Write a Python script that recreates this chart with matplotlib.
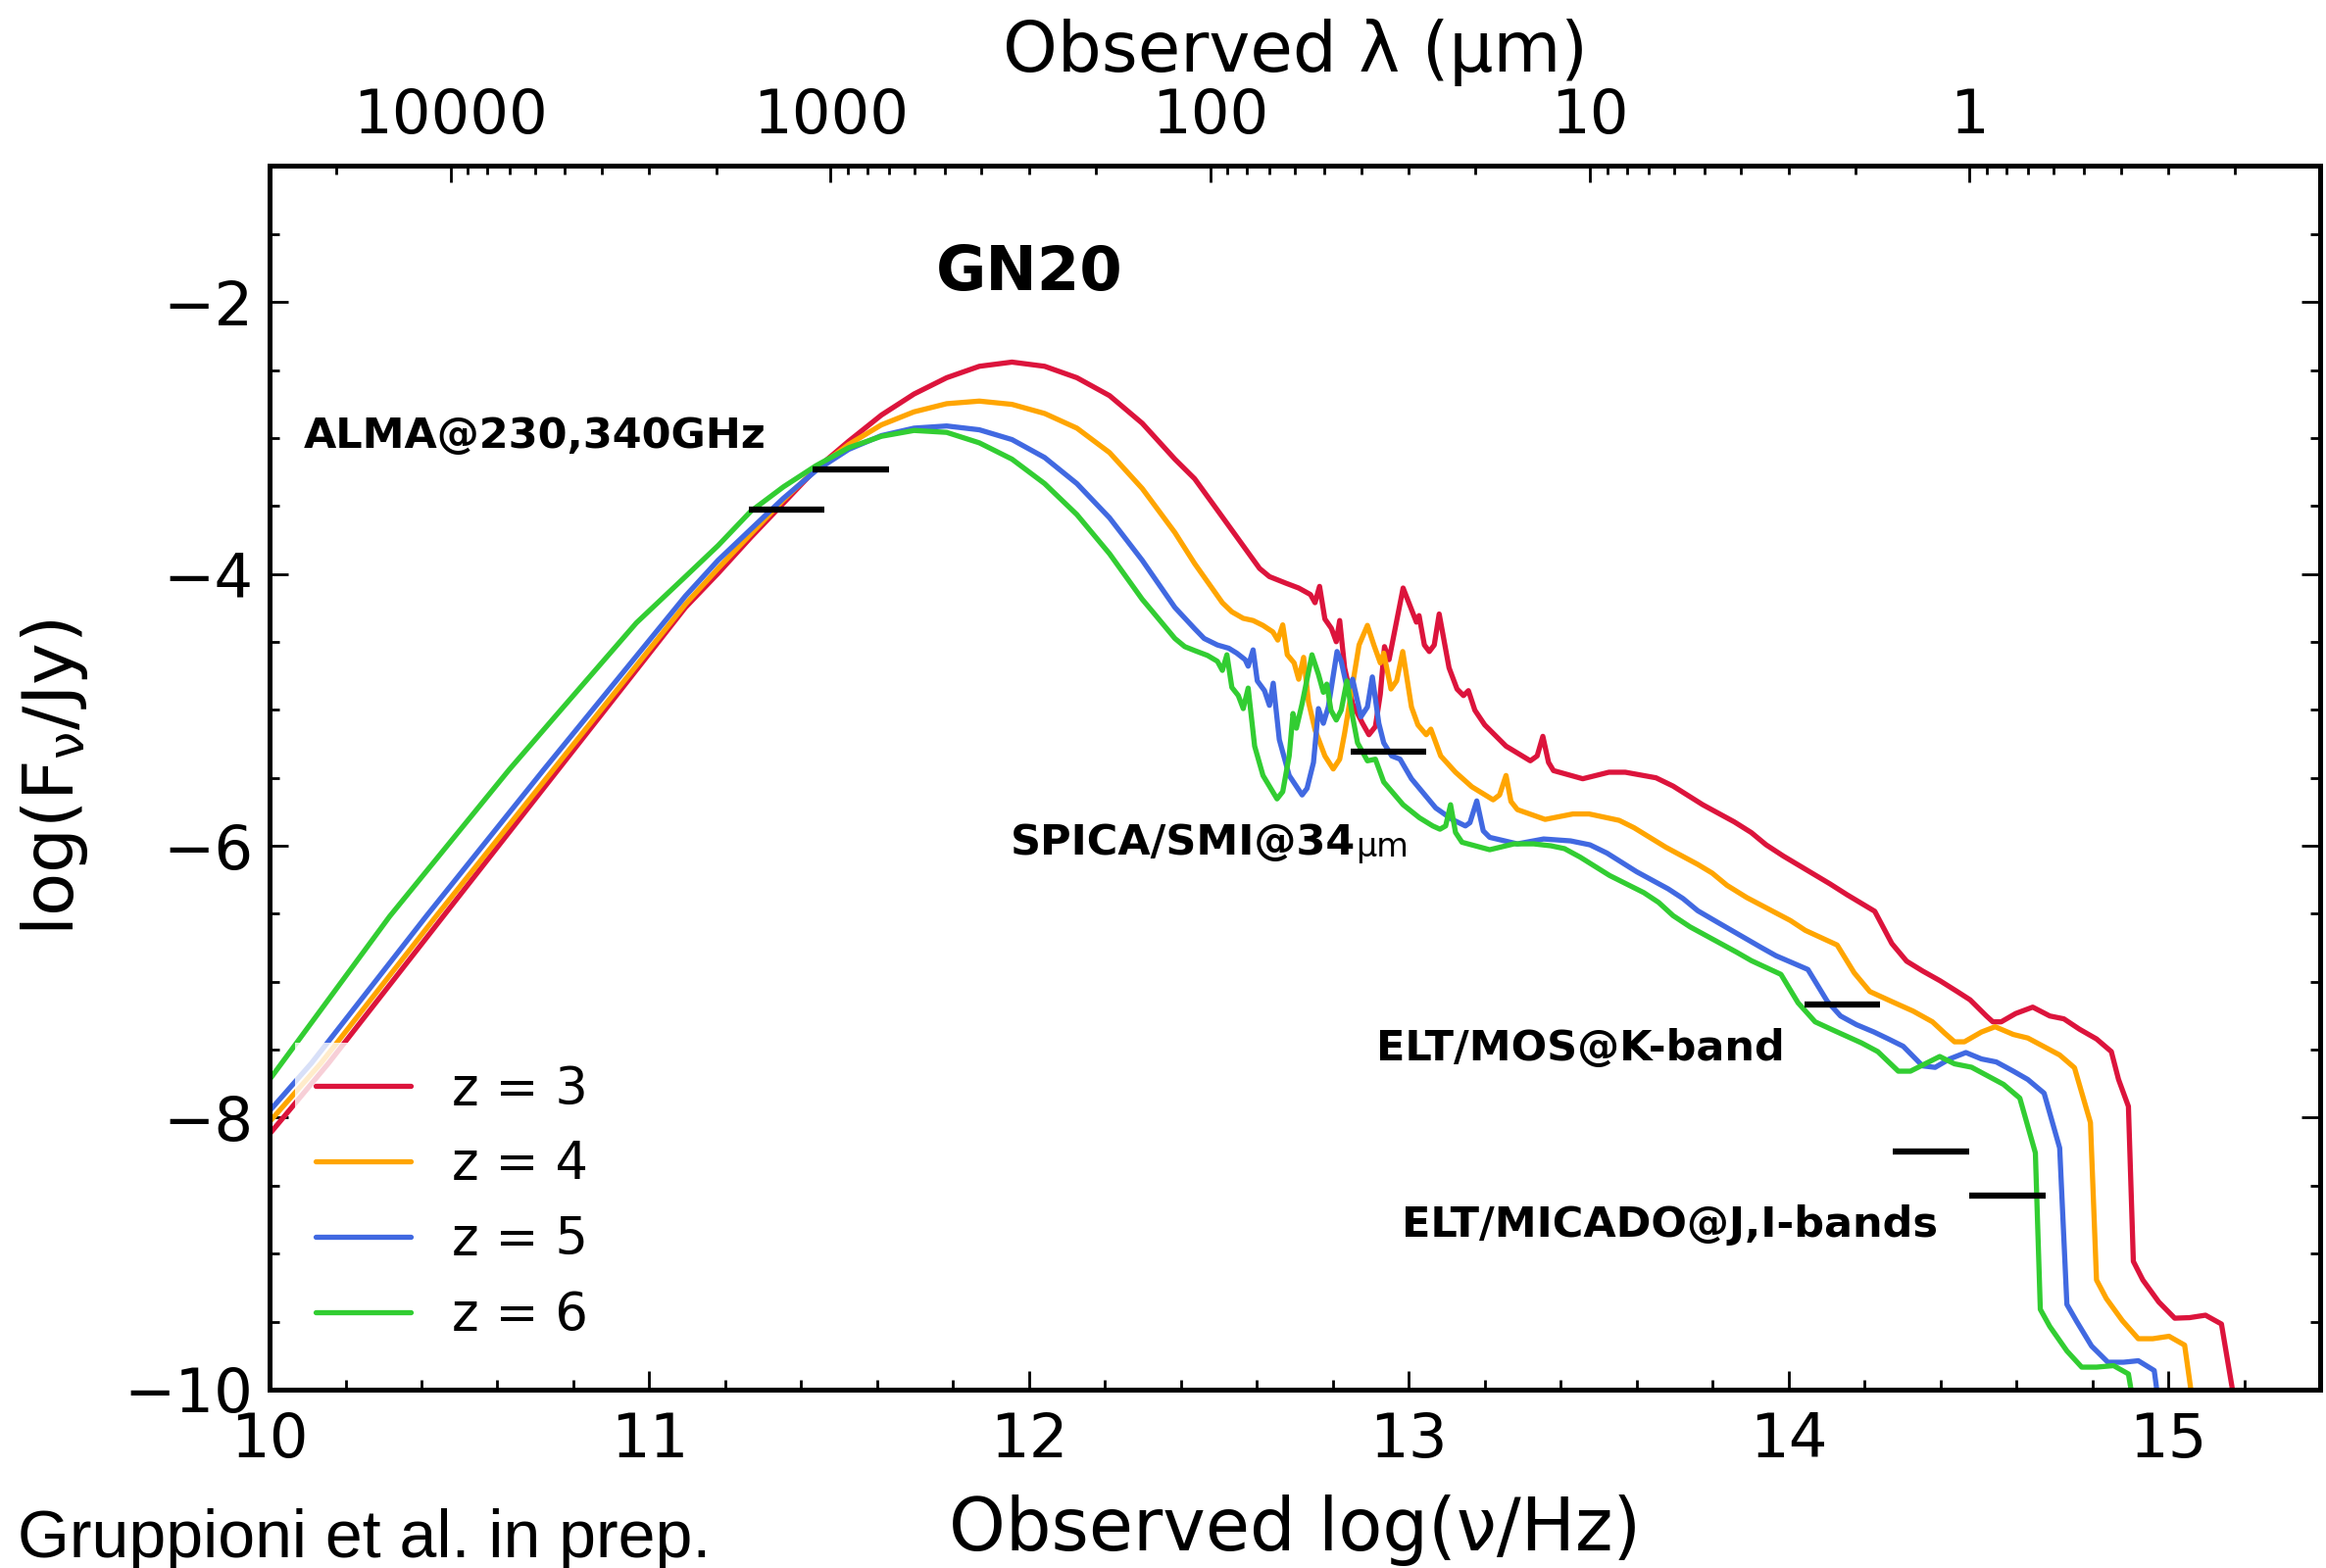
import matplotlib
matplotlib.use('Agg')
import matplotlib.pyplot as plt
from matplotlib.ticker import MultipleLocator, FixedLocator, FuncFormatter, LogLocator, NullFormatter

plt.rcParams['font.family'] = ['DejaVu Sans']
plt.rcParams['lines.solid_capstyle'] = 'round'

# SED of GN20 redshifted to z = 3..6, log(nu/Hz) vs log(F_nu/Jy)
lognu_z3 = [10.0, 10.155, 10.457, 10.76, 11.095, 11.181, 11.267, 11.353, 11.439, 11.525, 11.611, 11.697,
            11.783, 11.869, 11.955, 12.041, 12.126, 12.212, 12.298, 12.384, 12.436, 12.517, 12.607, 12.633,
            12.676, 12.71, 12.741, 12.753, 12.765,
            12.779, 12.796, 12.809, 12.818, 12.831, 12.852, 12.878, 12.895, 12.912, 12.925, 12.936, 12.948,
            12.985, 13.02, 13.027, 13.041, 13.054, 13.067, 13.08, 13.106, 13.127, 13.144, 13.157, 13.174,
            13.2, 13.256, 13.32, 13.338, 13.353, 13.368, 13.381, 13.458, 13.527, 13.57, 13.651, 13.696,
            13.774, 13.857, 13.902, 13.941, 13.986, 14.109, 14.154, 14.227, 14.272, 14.311, 14.353, 14.399,
            14.444, 14.478, 14.521, 14.538, 14.56, 14.598, 14.643, 14.688, 14.725, 14.766, 14.811, 14.85,
            14.869, 14.895, 14.908, 14.933, 14.975, 15.017, 15.056, 15.098, 15.14, 15.172]
logf_z3 = [-8.12, -7.6, -6.52, -5.44, -4.247, -3.996, -3.732, -3.48, -3.228, -3.024, -2.832, -2.677,
           -2.557, -2.473, -2.442, -2.473, -2.557, -2.689, -2.892, -3.156, -3.3, -3.612, -3.96, -4.02,
           -4.068, -4.104, -4.152, -4.212, -4.092,
           -4.332, -4.4, -4.499, -4.343, -4.691, -4.955, -5.099, -5.183, -5.123, -4.883, -4.535, -4.631,
           -4.104, -4.355, -4.307, -4.523, -4.571, -4.523, -4.295, -4.691, -4.847, -4.895, -4.859, -5.003,
           -5.111, -5.267, -5.375, -5.339, -5.195, -5.387, -5.447, -5.507, -5.459, -5.459, -5.5, -5.561,
           -5.698, -5.824, -5.903, -5.993, -6.075, -6.28, -6.36, -6.482, -6.719, -6.849, -6.921, -6.993,
           -7.072, -7.133, -7.252, -7.295, -7.295, -7.234, -7.187, -7.252, -7.273, -7.349, -7.421, -7.514,
           -7.719, -7.917, -9.057, -9.194, -9.356, -9.475, -9.471, -9.453, -9.518, -10.05]

lognu_z4 = [10.0, 10.135, 10.438, 10.747, 11.095, 11.181, 11.267, 11.353, 11.439, 11.525, 11.611, 11.697,
            11.783, 11.869, 11.955, 12.041, 12.126, 12.212, 12.298, 12.384, 12.436, 12.509, 12.534, 12.564,
            12.59, 12.616, 12.642, 12.655,
            12.668, 12.68, 12.698, 12.71, 12.723, 12.736, 12.753, 12.779, 12.801, 12.818, 12.831, 12.848,
            12.869, 12.891, 12.908, 12.925, 12.934, 12.953, 12.968, 12.984, 13.007, 13.024, 13.046, 13.058,
            13.084, 13.123, 13.166, 13.222, 13.239, 13.256, 13.269, 13.286, 13.359, 13.432, 13.475, 13.554,
            13.593, 13.677, 13.761, 13.799, 13.838, 13.89, 14.005, 14.044, 14.128, 14.173, 14.214, 14.276,
            14.328, 14.379, 14.411, 14.437, 14.463, 14.508, 14.544, 14.592, 14.63, 14.714, 14.753, 14.795,
            14.811, 14.837, 14.879, 14.921, 14.959, 15.002, 15.043, 15.062]
logf_z4 = [-8.03, -7.6, -6.52, -5.44, -4.223, -3.96, -3.708, -3.456, -3.228, -3.048, -2.904, -2.808,
           -2.748, -2.729, -2.753, -2.82, -2.928, -3.108, -3.372, -3.696, -3.924, -4.212, -4.279, -4.327,
           -4.343, -4.379, -4.427, -4.487,
           -4.375, -4.595, -4.655, -4.775, -4.614, -4.943, -5.147, -5.339, -5.435, -5.363, -5.171, -4.883,
           -4.523, -4.379, -4.523, -4.655, -4.583, -4.847, -4.787, -4.571, -4.979, -5.111, -5.183, -5.142,
           -5.339, -5.459, -5.566, -5.662, -5.626, -5.483, -5.674, -5.734, -5.806, -5.766, -5.766, -5.813,
           -5.867, -6.011, -6.137, -6.201, -6.291, -6.381, -6.55, -6.622, -6.73, -6.935, -7.072, -7.151,
           -7.216, -7.295, -7.378, -7.442, -7.442, -7.37, -7.331, -7.388, -7.414, -7.539, -7.633, -8.036,
           -9.194, -9.331, -9.493, -9.626, -9.626, -9.608, -9.673, -10.05]

lognu_z5 = [10.0, 10.11, 10.412, 10.722, 11.095, 11.181, 11.267, 11.353, 11.439, 11.525, 11.611, 11.697,
            11.783, 11.869, 11.955, 12.041, 12.126, 12.212, 12.298, 12.384, 12.436, 12.461, 12.496, 12.526,
            12.547, 12.569,
            12.577, 12.59, 12.601, 12.62, 12.633, 12.643, 12.659, 12.685, 12.719, 12.732, 12.749, 12.762,
            12.775, 12.788, 12.811, 12.822, 12.839, 12.852, 12.874, 12.891, 12.904, 12.921, 12.934, 12.955,
            12.977, 13.007, 13.071, 13.114, 13.149, 13.161, 13.179, 13.196, 13.213, 13.286, 13.355, 13.426,
            13.477, 13.522, 13.6, 13.683, 13.722, 13.761, 13.812, 13.928, 13.967, 14.051, 14.102, 14.137,
            14.179, 14.225, 14.263, 14.302, 14.353, 14.386, 14.424, 14.467, 14.508, 14.547, 14.592, 14.63,
            14.673, 14.714, 14.733, 14.759, 14.798, 14.841, 14.882, 14.921, 14.963, 14.972]
logf_z5 = [-7.95, -7.6, -6.52, -5.44, -4.163, -3.9, -3.672, -3.444, -3.24, -3.084, -2.983, -2.928,
           -2.912, -2.94, -3.012, -3.144, -3.336, -3.588, -3.9, -4.247, -4.403, -4.475, -4.523, -4.547,
           -4.583, -4.631,
           -4.679, -4.559, -4.787, -4.859, -4.967, -4.804, -5.219, -5.483, -5.626, -5.578, -5.387, -4.991,
           -5.099, -4.979, -4.571, -4.643, -4.859, -4.775, -5.051, -4.979, -4.758, -5.099, -5.243, -5.339,
           -5.363, -5.507, -5.722, -5.806, -5.854, -5.83, -5.67, -5.89, -5.938, -5.986, -5.95, -5.964,
           -5.993, -6.054, -6.191, -6.317, -6.388, -6.478, -6.561, -6.748, -6.809, -6.91, -7.144, -7.252,
           -7.316, -7.37, -7.421, -7.475, -7.619, -7.63, -7.568, -7.521, -7.568, -7.59, -7.658, -7.719,
           -7.82, -8.223, -9.374, -9.5, -9.68, -9.799, -9.799, -9.788, -9.86, -10.05]

lognu_z6 = [10.0, 10.316, 10.631, 10.747, 10.966, 11.095, 11.181, 11.267, 11.353, 11.439, 11.525,
            11.611, 11.697, 11.783, 11.869, 11.955, 12.041, 12.126, 12.212, 12.298, 12.32, 12.384, 12.41,
            12.436, 12.47, 12.496, 12.509, 12.521,
            12.534, 12.551, 12.564, 12.577, 12.594, 12.616, 12.653, 12.668, 12.685, 12.695, 12.704, 12.719,
            12.745, 12.762, 12.775, 12.784, 12.795, 12.809, 12.822, 12.837, 12.852, 12.865, 12.891, 12.912,
            12.934, 12.985, 13.028, 13.063, 13.082, 13.097, 13.11, 13.123, 13.14, 13.213, 13.277, 13.329,
            13.374, 13.41, 13.451, 13.529, 13.619, 13.658, 13.696, 13.741, 13.864, 13.902, 13.98, 14.025,
            14.07, 14.115, 14.192, 14.235, 14.289, 14.321, 14.398, 14.437, 14.482, 14.566, 14.609, 14.65,
            14.663, 14.688, 14.733, 14.772, 14.811, 14.856, 14.895, 14.905]
logf_z6 = [-7.72, -6.52, -5.44, -5.065, -4.36, -4.02, -3.792, -3.54, -3.36, -3.204, -3.072,
           -2.988, -2.945, -2.959, -3.036, -3.156, -3.336, -3.564, -3.852, -4.187, -4.26, -4.475, -4.535,
           -4.564, -4.6, -4.643, -4.71, -4.595,
           -4.835, -4.895, -4.991, -4.84, -5.267, -5.483, -5.655, -5.602, -5.339, -5.027, -5.135, -4.955,
           -4.595, -4.739, -4.871, -4.811, -5.003, -5.075, -5.003, -4.787, -5.051, -5.243, -5.375, -5.363,
           -5.531, -5.698, -5.794, -5.854, -5.878, -5.854, -5.698, -5.902, -5.974, -6.029, -5.986, -5.986,
           -6.0, -6.021, -6.083, -6.219, -6.345, -6.417, -6.514, -6.597, -6.784, -6.845, -6.946, -7.155,
           -7.295, -7.353, -7.45, -7.514, -7.658, -7.658, -7.55, -7.604, -7.629, -7.755, -7.856, -8.259,
           -9.41, -9.536, -9.716, -9.835, -9.835, -9.824, -9.885, -10.05]

# detection limits: ALMA 230/340 GHz, SPICA/SMI 34um, ELT K, J, I
limit_lognu = [11.362, 11.531, 12.946, 14.141, 14.375, 14.576]
limit_logf = [-3.53, -3.23, -5.31, -7.17, -8.25, -8.57]
limit_halfwidth = 0.1

redshifts = ['z = 3', 'z = 4', 'z = 5', 'z = 6']
colors = ['crimson', 'orange', 'royalblue', 'limegreen']

log_c_um = 14.4768  # log10(c) in micron/s

fig = plt.figure(figsize=(23.73, 16), dpi=100)
ax = fig.add_axes([0.1159, 0.1138, 0.8816, 0.7803])

curves = [(lognu_z3, logf_z3), (lognu_z4, logf_z4), (lognu_z5, logf_z5), (lognu_z6, logf_z6)]
for (x, y), c, lab in zip(curves, colors, redshifts):
    ax.plot(x, y, color=c, lw=3.8, label=lab, solid_joinstyle='round')

ax.hlines(limit_logf, [v - limit_halfwidth for v in limit_lognu], [v + limit_halfwidth for v in limit_lognu],
          colors='black', lw=4.5)

ax.set_xlim(10, 15.4)
ax.set_ylim(-10, -1)
ax.xaxis.set_major_locator(MultipleLocator(1))
ax.xaxis.set_minor_locator(MultipleLocator(0.2))
ax.yaxis.set_major_locator(MultipleLocator(2))
ax.yaxis.set_minor_locator(MultipleLocator(0.5))
ax.tick_params(which='both', direction='in', top=False, right=True, width=2)
ax.tick_params(which='major', length=14)
ax.tick_params(which='minor', length=7)
ax.tick_params(axis='x', labelsize=45, pad=16)
ax.tick_params(axis='y', labelsize=45, pad=12)
for s in ax.spines.values():
    s.set_linewidth(3.5)

ax.set_xlabel('Observed log(ν/Hz)', fontsize=53, labelpad=18)
ax.set_ylabel(r'log(F$_{\mathregular{ν}}$/Jy)', fontsize=52, labelpad=25)

# top axis: observed wavelength in micron
ax2 = ax.twiny()
ax2.set_xscale('log')
ax2.set_xlim(10 ** (log_c_um - 10), 10 ** (log_c_um - 15.4))
ax2.xaxis.set_major_locator(FixedLocator([10000, 1000, 100, 10, 1]))
ax2.xaxis.set_major_formatter(FuncFormatter(lambda v, p: '%g' % v))
ax2.xaxis.set_minor_locator(LogLocator(base=10, subs=range(2, 10), numticks=20))
ax2.xaxis.set_minor_formatter(NullFormatter())
ax2.tick_params(which='both', direction='in', width=2, labelsize=45, pad=15)
ax2.tick_params(which='major', length=12)
ax2.tick_params(which='minor', length=6.5)
ax2.set_xlabel('Observed λ (μm)', fontsize=51, labelpad=11)
for s in ax2.spines.values():
    s.set_linewidth(3.5)

lkw = dict(fontsize=31, fontweight='bold')
ax.text(12.0, -1.79, 'GN20', fontsize=45, fontweight='bold', ha='center', va='center')
ax.text(10.09, -2.99, 'ALMA@230,340GHz', ha='left', va='center', **lkw)
spica = ax.text(11.952, -5.98, 'SPICA/SMI@34', ha='left', va='center', **lkw)
ax.annotate('μm', xy=(1, 0), xycoords=spica, ha='left', va='bottom', fontsize=24)
ax.text(13.99, -7.49, 'ELT/MOS@K-band', ha='right', va='center', **lkw)
ax.text(14.392, -8.79, 'ELT/MICADO@J,I-bands', ha='right', va='center', **lkw)

leg = ax.legend(loc='upper left', bbox_to_anchor=(0.0124, 0.2831), borderaxespad=0, fontsize=38,
                labelspacing=0.47, handlelength=1.83, handletextpad=0.8, frameon=True,
                fancybox=False, framealpha=0.8)
leg.get_frame().set_edgecolor('none')
leg.get_frame().set_facecolor('white')

fig.text(0.0076, 0.018, 'Gruppioni et al. in prep.', fontsize=49, family='Liberation Sans',
         ha='left', va='center')

fig.savefig('out.png', dpi=100)
